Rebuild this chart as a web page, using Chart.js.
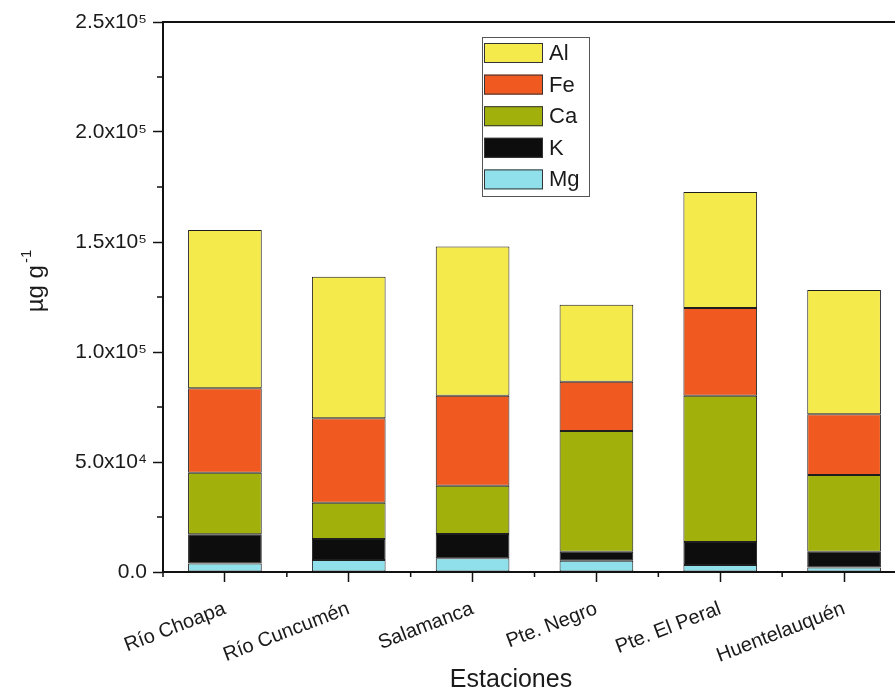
<!DOCTYPE html>
<html>
<head>
<meta charset="utf-8">
<script src="https://cdn.jsdelivr.net/npm/chart.js@4.4.1/dist/chart.umd.min.js"></script>
<style>
  html, body { margin: 0; padding: 0; background: #fff; overflow: hidden; }
  #wrap { position: relative; width: 909px; height: 692px; }
</style>
</head>
<body>
<div id="wrap"><canvas id="chart"></canvas></div>
<script>
// Sampling stations along the river
const stations = ['Río Choapa', 'Río Cuncumén', 'Salamanca', 'Pte. Negro', 'Pte. El Peral', 'Huentelauquén'];

// Element concentrations (µg g-1), stacked from the bottom up
const mg = [3900, 5500, 6200, 5100, 3200, 2100];
const k  = [13300, 9500, 11100, 4100, 10400, 7100];
const ca = [27900, 16500, 21900, 54900, 66500, 34900];
const fe = [38400, 38400, 40900, 22400, 39900, 27600];
const al = [71900, 64300, 67800, 35000, 52700, 56500];

// Y-axis tick values and their labels
const yTickValues = [0, 50000, 100000, 150000, 200000, 250000];
const yTickLabels = ['0.0', '5.0x10⁴', '1.0x10⁵', '1.5x10⁵', '2.0x10⁵', '2.5x10⁵'];

const FONT = '"Liberation Sans", Arial, Helvetica, sans-serif';
const INK = '#1a1a1a';

const series = [
  { label: 'Mg', data: mg, backgroundColor: '#8fe0ea' },
  { label: 'K',  data: k,  backgroundColor: '#0d0d0d' },
  { label: 'Ca', data: ca, backgroundColor: '#a2b00c' },
  { label: 'Fe', data: fe, backgroundColor: '#f0591f' },
  { label: 'Al', data: al, backgroundColor: '#f5ea4b' }
];

// Frame, minor ticks, boxed legend and axis titles
const decorations = {
  id: 'decorations',
  afterDraw(chart) {
    const ctx = chart.ctx;
    const area = chart.chartArea;
    const xs = chart.scales.x;
    const ys = chart.scales.y;
    ctx.save();

    // top and right frame lines
    ctx.strokeStyle = '#111';
    ctx.lineWidth = 2;
    ctx.beginPath();
    ctx.moveTo(area.left, area.top);
    ctx.lineTo(area.right, area.top);
    ctx.lineTo(area.right, area.bottom);
    ctx.stroke();

    // minor ticks on the y axis
    ctx.lineWidth = 1.5;
    ctx.beginPath();
    for (let v = 25000; v < 250000; v += 50000) {
      const py = ys.getPixelForValue(v);
      ctx.moveTo(area.left - 6, py);
      ctx.lineTo(area.left, py);
    }
    // minor ticks between categories on the x axis
    const n = chart.data.labels.length;
    for (let i = 0; i <= n; i++) {
      const px = xs.getPixelForValue(i - 0.5);
      ctx.moveTo(px, area.bottom);
      ctx.lineTo(px, area.bottom + 5);
    }
    ctx.stroke();

    // legend box inside the plot
    const bx = 482, by = 37, bw = 107, bh = 159;
    ctx.strokeStyle = '#555';
    ctx.lineWidth = 1;
    ctx.strokeRect(bx + 0.5, by + 0.5, bw, bh);
    const items = chart.data.datasets.slice().reverse();
    ctx.font = '22px ' + FONT;
    ctx.textBaseline = 'middle';
    ctx.textAlign = 'left';
    items.forEach((ds, i) => {
      const sy = by + 6 + i * 31.6;
      ctx.fillStyle = ds.backgroundColor;
      ctx.fillRect(bx + 2, sy, 59, 20);
      ctx.strokeStyle = '#333';
      ctx.strokeRect(bx + 2.5, sy + 0.5, 58, 19);
      ctx.fillStyle = INK;
      ctx.fillText(ds.label, bx + 67, sy + 11);
    });

    // y-axis title with superscript exponent
    ctx.save();
    ctx.translate(43, 281);
    ctx.rotate(-Math.PI / 2);
    ctx.font = '24px ' + FONT;
    const main = 'µg g';
    const mw = ctx.measureText(main).width;
    ctx.font = '15px ' + FONT;
    const sw = ctx.measureText('-1').width;
    const x0 = -(mw + sw + 2) / 2;
    ctx.fillStyle = INK;
    ctx.textBaseline = 'alphabetic';
    ctx.font = '24px ' + FONT;
    ctx.fillText(main, x0, 0);
    ctx.font = '15px ' + FONT;
    ctx.fillText('-1', x0 + mw + 2, -12);
    ctx.restore();

    // x-axis title
    ctx.font = '25px ' + FONT;
    ctx.fillStyle = INK;
    ctx.textAlign = 'center';
    ctx.textBaseline = 'alphabetic';
    ctx.fillText('Estaciones', 511, 687);

    ctx.restore();
  }
};

new Chart(document.getElementById('chart'), {
  type: 'bar',
  data: {
    labels: stations,
    datasets: series.map(s => ({
      label: s.label,
      data: s.data,
      backgroundColor: s.backgroundColor,
      borderColor: '#1e1e1e',
      borderWidth: 1,
      borderSkipped: false,
      barPercentage: 0.595,
      categoryPercentage: 1.0
    }))
  },
  options: {
    responsive: true,
    maintainAspectRatio: false,
    animation: false,
    layout: { padding: { top: 22, right: 3, left: 0, bottom: 0 } },
    plugins: { legend: { display: false }, tooltip: { enabled: false } },
    scales: {
      x: {
        stacked: true,
        offset: true,
        grid: { display: true, drawOnChartArea: false, offset: false, tickLength: 10, tickColor: '#111', tickWidth: 1.5 },
        border: { display: true, color: '#111', width: 2 },
        ticks: {
          autoSkip: false, minRotation: 21, maxRotation: 21, padding: 15,
          color: INK, font: { family: FONT, size: 20 }
        },
        afterFit(scale) { scale.height = 120; }
      },
      y: {
        stacked: true,
        min: 0,
        max: 250000,
        grid: { display: true, drawOnChartArea: false, tickLength: 10, tickColor: '#111', tickWidth: 1.5 },
        border: { display: true, color: '#111', width: 2 },
        ticks: {
          stepSize: 50000, padding: 6, color: INK, font: { family: FONT, size: 21 },
          callback(value) {
            const i = yTickValues.indexOf(value);
            return i >= 0 ? yTickLabels[i] : '';
          }
        },
        afterFit(scale) { scale.width = 163; }
      }
    }
  },
  plugins: [decorations]
});
</script>
</body>
</html>
